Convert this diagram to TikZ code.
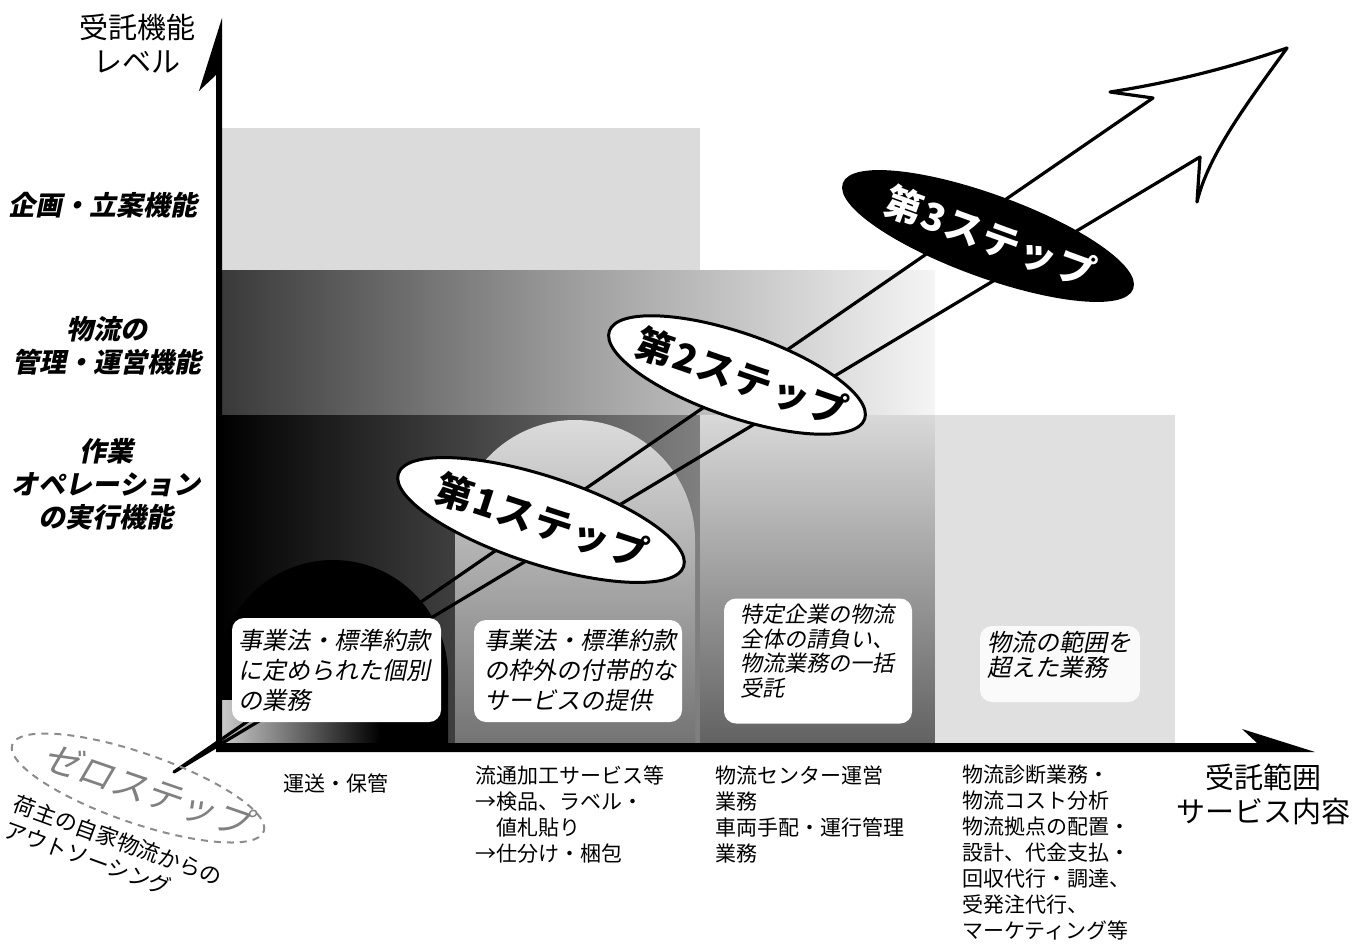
\documentclass[tikz,border=0pt]{standalone}
\usepackage{fontspec}
\usetikzlibrary{shapes.geometric}
\newfontfamily\jp{Noto Sans CJK JP}
\newfontfamily\jpit[FakeSlant=0.2]{Noto Sans CJK JP}
\newfontfamily\jpstep[LetterSpace=4]{Noto Sans CJK JP}
\begin{document}
\begin{tikzpicture}[x=1pt,y=-1pt,
  box/.style={draw=none, fill=white, rounded corners=12pt, inner sep=0pt},
  boxtxt/.style={font=\jpit\fontsize{24}{30}\selectfont, align=left, anchor=west, inner sep=0pt},
  lvl/.style={font=\jpit\bfseries\fontsize{27}{33}\selectfont, align=center, inner sep=0pt},
  ttl/.style={font=\jp\fontsize{29}{34}\selectfont, align=center, inner sep=0pt},
  svc/.style={font=\jp\fontsize{21}{26}\selectfont, align=left, anchor=north west, inner sep=0pt},
  stepell/.style={ellipse, draw=black, line width=3pt, fill=white, inner sep=0pt},
  steptxt/.style={font=\jpstep\bfseries\fontsize{38}{38}\selectfont, inner sep=0pt},
]
\useasboundingbox (0,0) rectangle (1367,944);
% background bands
\fill[black!14] (218,128) rectangle (700,270);
\shade[left color=black!78, right color=black!4, middle color=black!38] (218,270) rectangle (935,415);
\shade[left color=black, right color=black!50] (218,415) rectangle (700,746);
\shade[top color=black!15, bottom color=black!62] (700,415) rectangle (935,746);
\fill[black!12] (935,415) rectangle (1175,746);
\shade[top color=black!14, bottom color=black!55] (455,746) -- (455,540) arc[start angle=180, end angle=360, radius=120] -- (695,746) -- cycle;
\fill[black] (218,746) -- (218,675) arc[start angle=180, end angle=360, radius=115] -- (448,746) -- cycle;
\shade[left color=black!20, right color=black] (220,700) rectangle (380,745);
% big arrow
\coordinate (p0) at (174,772);
\coordinate (nu) at (1153,98);
\coordinate (bu) at (1110,92);
\coordinate (tip) at (1287,48);
\coordinate (bl) at (1197,202);
\coordinate (nl) at (1200,157);
\draw[line width=3.2pt, line join=round] (p0) -- (nu) -- (bu) .. controls (1175,82) and (1235,66) .. (tip) .. controls (1248,102) and (1208,155) .. (bl) -- (nl) -- cycle;
% boxes
\node[box, minimum width=209pt, minimum height=104pt] (b1) at (336.5,670) {};
\node[boxtxt] (t1) at (238,670) {事業法・標準約款\\に定められた個別\\の業務};
\node[box, minimum width=208pt, minimum height=102pt] (b2) at (578,671) {};
\node[boxtxt] (t2) at (484,670) {事業法・標準約款\\の枠外の付帯的な\\サービスの提供};
\node[box, minimum width=188pt, minimum height=125pt] (b3) at (818,661) {};
\node[boxtxt, font=\jpit\fontsize{22}{24.5}\selectfont] (t3) at (740,651) {特定企業の物流\\全体の請負い、\\物流業務の一括\\受託};
\node[box, fill=white, fill opacity=0.85, minimum width=160pt, minimum height=76pt] (b4) at (1060,664) {};
\node[boxtxt, font=\jpit\fontsize{24}{25}\selectfont] (t4) at (987,655) {物流の範囲を\\超えた業務};
% step ellipses
\node[stepell, minimum width=300pt, minimum height=88pt, rotate=-18] (e1) at (541,520) {};
\node[steptxt, rotate=-18] (e1t) at (542,521) {第1ステップ};
\node[stepell, minimum width=270pt, minimum height=84pt, rotate=-19] (e2) at (737,375) {};
\node[steptxt, rotate=-19] (e2t) at (742,377) {第2ステップ};
\node[stepell, fill=black, minimum width=306pt, minimum height=80pt, rotate=-20] (e3) at (988,236) {};
\node[steptxt, text=white, rotate=-20] (e3t) at (990,237) {第3ステップ};
% axes
\coordinate (o) at (219,747);
\fill[black] (216,752) -- (216,75) -- (199,91) -- (222,18) -- (222,743) -- (1257,743) -- (1242,729) -- (1315,752) -- cycle;
% zero step
\node[ellipse, draw=black!45, dash pattern=on 7pt off 6pt, line width=2pt, minimum width=266pt, minimum height=70pt, rotate=-19] (e0) at (138,788) {};
\node[font=\jpit\fontsize{36}{36}\selectfont, text=black!50, rotate=-19] (z0) at (147,790) {ゼロステップ};
\node[font=\jp\fontsize{22}{27}\selectfont, align=left, rotate=-20, anchor=north west, inner sep=0pt] (z1) at (18,793) {荷主の自家物流からの\\アウトソーシング};
% titles
\node[ttl] (ytitle) at (137,44) {受託機能\\レベル};
\node[ttl] (xtitle) at (1263,794) {受託範囲\\サービス内容};
% level labels
\node[lvl] (l3) at (103,205) {企画・立案機能};
\node[lvl] (l2) at (107,346) {物流の\\管理・運営機能};
\node[lvl] (l1) at (106,484) {作業\\オペレーション\\の実行機能};
% service texts
\node[svc] (s1) at (283,774) {運送・保管};
\node[svc] (s2) at (475,766) {流通加工サービス等\\→検品、ラベル・\\\hspace*{21pt}値札貼り\\→仕分け・梱包};
\node[svc] (s3) at (715,766) {物流センター運営\\業務\\車両手配・運行管理\\業務};
\node[svc] (s4) at (962,765) {物流診断業務・\\物流コスト分析\\物流拠点の配置・\\設計、代金支払・\\回収代行・調達、\\受発注代行、\\マーケティング等};
\end{tikzpicture}
\end{document}
